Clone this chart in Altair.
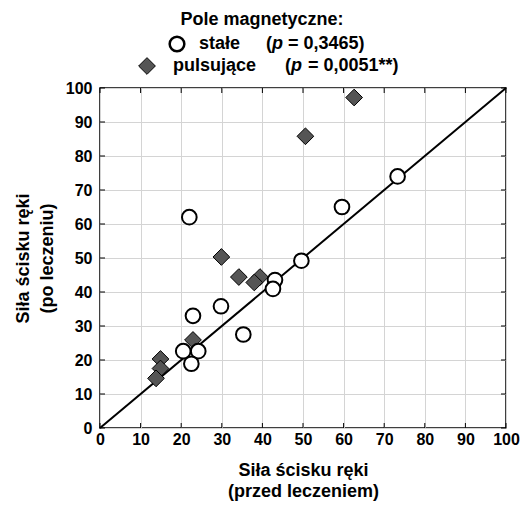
import altair as alt
import pandas as pd

# --- data ---
stale_before = [73.3, 59.6, 49.6, 43.1, 42.6, 22.0, 29.8, 22.9, 35.3, 20.5, 24.2, 22.5]
stale_after = [74.0, 65.0, 49.2, 43.5, 40.9, 62.0, 35.8, 33.0, 27.5, 22.6, 22.6, 18.9]
puls_before = [62.6, 50.6, 29.9, 34.2, 39.4, 38.0, 22.9, 14.9, 14.9, 13.8]
puls_after = [97.2, 85.8, 50.3, 44.4, 44.4, 42.8, 25.9, 20.3, 17.5, 14.6]
identity = [0, 100]
tick_values = list(range(0, 101, 10))

FONT = "Liberation Sans"
W, H = 406, 340
OX, OY = 100, 88  # page position of the plot origin

df_s = pd.DataFrame({"x": stale_before, "y": stale_after})
df_p = pd.DataFrame({"x": puls_before, "y": puls_after})
df_line = pd.DataFrame({"x": identity, "y": identity})
df_t = pd.DataFrame({"t": tick_values})

xscale = alt.Scale(domain=[0, 100], nice=False, zero=False)
yscale = alt.Scale(domain=[0, 100], nice=False, zero=False)

common = dict(
    values=tick_values, grid=True, gridColor="#d4d4d4", gridWidth=1,
    ticks=False, domain=False, labelFont=FONT, labelFontSize=16,
    labelFontWeight="bold", labelColor="black", labelOverlap=False,
    labelFlush=False, titleFont=FONT, titleFontSize=18,
    titleFontWeight="bold", titleColor="black",
)
xaxis = alt.Axis(
    labelPadding=3, title=["Siła ścisku ręki", "(przed leczeniem)"],
    titleBaseline="top", titleY=33, titleLineHeight=21, **common,
)
yaxis = alt.Axis(
    labelPadding=8, title=["Siła ścisku ręki", "(po leczeniu)"],
    titleBaseline="top", titleX=-86, titleLineHeight=24, **common,
)


def X(field):
    return alt.X(field, scale=xscale, axis=xaxis)


def Y(field):
    return alt.Y(field, scale=yscale, axis=yaxis)


diag = alt.Chart(df_line).mark_line(color="black", strokeWidth=2).encode(
    x=X("x:Q"), y=Y("y:Q"),
)

diamonds = alt.Chart(df_p).mark_point(
    shape="diamond", filled=True, fill="#555555", stroke="black",
    strokeWidth=1, size=280, opacity=1
).encode(x=X("x:Q"), y=Y("y:Q"))

circles = alt.Chart(df_s).mark_point(
    shape="circle", filled=False, fill="white", stroke="black",
    strokeWidth=2, size=215, opacity=1
).encode(x=X("x:Q"), y=Y("y:Q"))

tb = alt.Chart(df_t).mark_rule(color="black", strokeWidth=1).encode(
    x=X("t:Q"), y=alt.value(H), y2=alt.value(H - 5))
tt = alt.Chart(df_t).mark_rule(color="black", strokeWidth=1).encode(
    x=X("t:Q"), y=alt.value(0), y2=alt.value(5))
tl = alt.Chart(df_t).mark_rule(color="black", strokeWidth=1).encode(
    y=Y("t:Q"), x=alt.value(0), x2=alt.value(5))
tr = alt.Chart(df_t).mark_rule(color="black", strokeWidth=1).encode(
    y=Y("t:Q"), x=alt.value(W), x2=alt.value(W - 5))

one = alt.Data(values=[{"k": 1}])


def txt(s, x, y, style="normal", align="left"):
    return alt.Chart(one).mark_text(
        text=s, align=align, baseline="middle", font=FONT, fontSize=18,
        fontWeight="bold", fontStyle=style, color="black"
    ).encode(x=alt.value(x - OX), y=alt.value(y - OY))


R1, R2 = 44, 66
legend = [
    txt("Pole magnetyczne:", 262, 20, align="center"),
    alt.Chart(one).mark_point(shape="circle", filled=False, stroke="black",
                              strokeWidth=2.5, size=215, opacity=1
                              ).encode(x=alt.value(177 - OX), y=alt.value(R1 - OY)),
    txt("stałe", 199, R1),
    txt("(", 266, R1),
    txt("p", 272, R1, style="italic"),
    txt("= 0,3465)", 288, R1),
    alt.Chart(one).mark_point(shape="diamond", filled=True, fill="#555555",
                              stroke="black", strokeWidth=1, size=280, opacity=1
                              ).encode(x=alt.value(147 - OX), y=alt.value(R2 - OY)),
    txt("pulsujące", 173, R2),
    txt("(", 285, R2),
    txt("p", 291, R2, style="italic"),
    txt("= 0,0051**)", 308, R2),
]

chart = alt.layer(diag, tb, tt, tl, tr, diamonds, circles, *legend).properties(
    width=W, height=H,
    autosize=alt.AutoSizeParams(type="none"),
    padding={"left": OX - 8, "top": OY - 8, "right": 14, "bottom": 76},
    background="white",
).configure_view(stroke="black", strokeWidth=1.5)

chart.save("out.html", embed_options={"renderer": "svg", "actions": False})
